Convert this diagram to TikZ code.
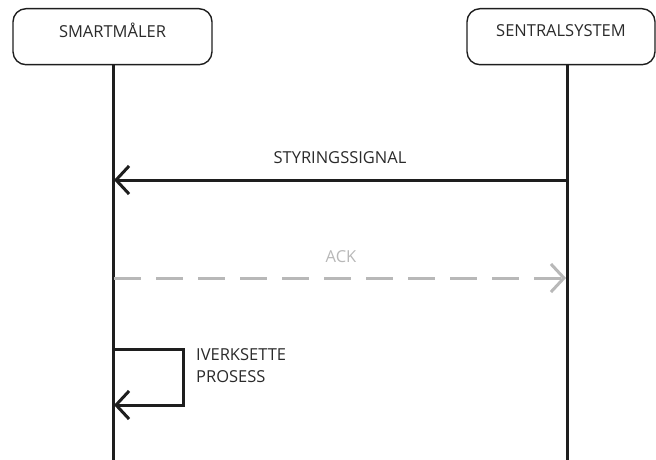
\documentclass[tikz,border=0pt]{standalone}
\usepackage{fontspec}
\setmainfont{Open Sans}
\usetikzlibrary{arrows.meta}
\definecolor{ink}{HTML}{1E1E1E}
\definecolor{txt}{HTML}{2A2A2A}
\definecolor{ackgray}{HTML}{B8B8B8}
\begin{document}
\begin{tikzpicture}[x=1pt,y=-1pt,
  actor/.style={draw=ink, line width=1.4pt, rounded corners=13pt, minimum height=56pt,
    text=txt, font=\fontsize{16.5}{18}\selectfont, anchor=north, inner sep=0pt,
    text depth=0pt, align=center},
  lifeline/.style={draw=ink, line width=3pt},
  msg/.style={draw=ink, line width=3pt, -{Straight Barb[length=13pt,width=28pt,line width=3pt]}},
  ack/.style={draw=ackgray, line width=3pt, dash pattern=on 27pt off 15pt,
    -{Straight Barb[length=13pt,width=28pt,line width=3pt]}},
  lbl/.style={text=txt, font=\fontsize{16.5}{19}\selectfont, inner sep=0pt},
]
\useasboundingbox (0,0) rectangle (656,460);
% participants
\node[actor, minimum width=199pt] (meter) at (112.5,8) {\raisebox{12pt}{SMARTMÅLER}};
\node[actor, minimum width=188pt] (central) at (561,8) {\raisebox{12pt}{SENTRALSYSTEM}};
% lifelines
\coordinate (meterEnd) at (113,460);
\coordinate (centralEnd) at (567,460);
\draw[lifeline] (meter.south -| meterEnd) -- (meterEnd);
\draw[lifeline] (central.south -| centralEnd) -- (centralEnd);
% control signal
\coordinate (sigA) at (567,180);
\coordinate (sigB) at (114,180);
\draw[msg] (sigA) -- (sigB);
\node[lbl] (sigL) at (340,158) {STYRINGSSIGNAL};
% acknowledgement
\coordinate (ackA) at (114,278);
\coordinate (ackB) at (566,278);
\draw[ack] (ackA) -- (ackB);
\node[lbl, text=ackgray] (ackL) at (341,257) {ACK};
% self call
\coordinate (selfA) at (113,349);
\coordinate (selfB) at (114,405);
\draw[msg, rounded corners=0pt] (selfA) -- (183,349) -- (183,405) -- (selfB);
\node[lbl, anchor=north west, align=left, font=\fontsize{16.5}{22}\selectfont] (selfL) at (196,348) {IVERKSETTE\\PROSESS};
\end{tikzpicture}
\end{document}
